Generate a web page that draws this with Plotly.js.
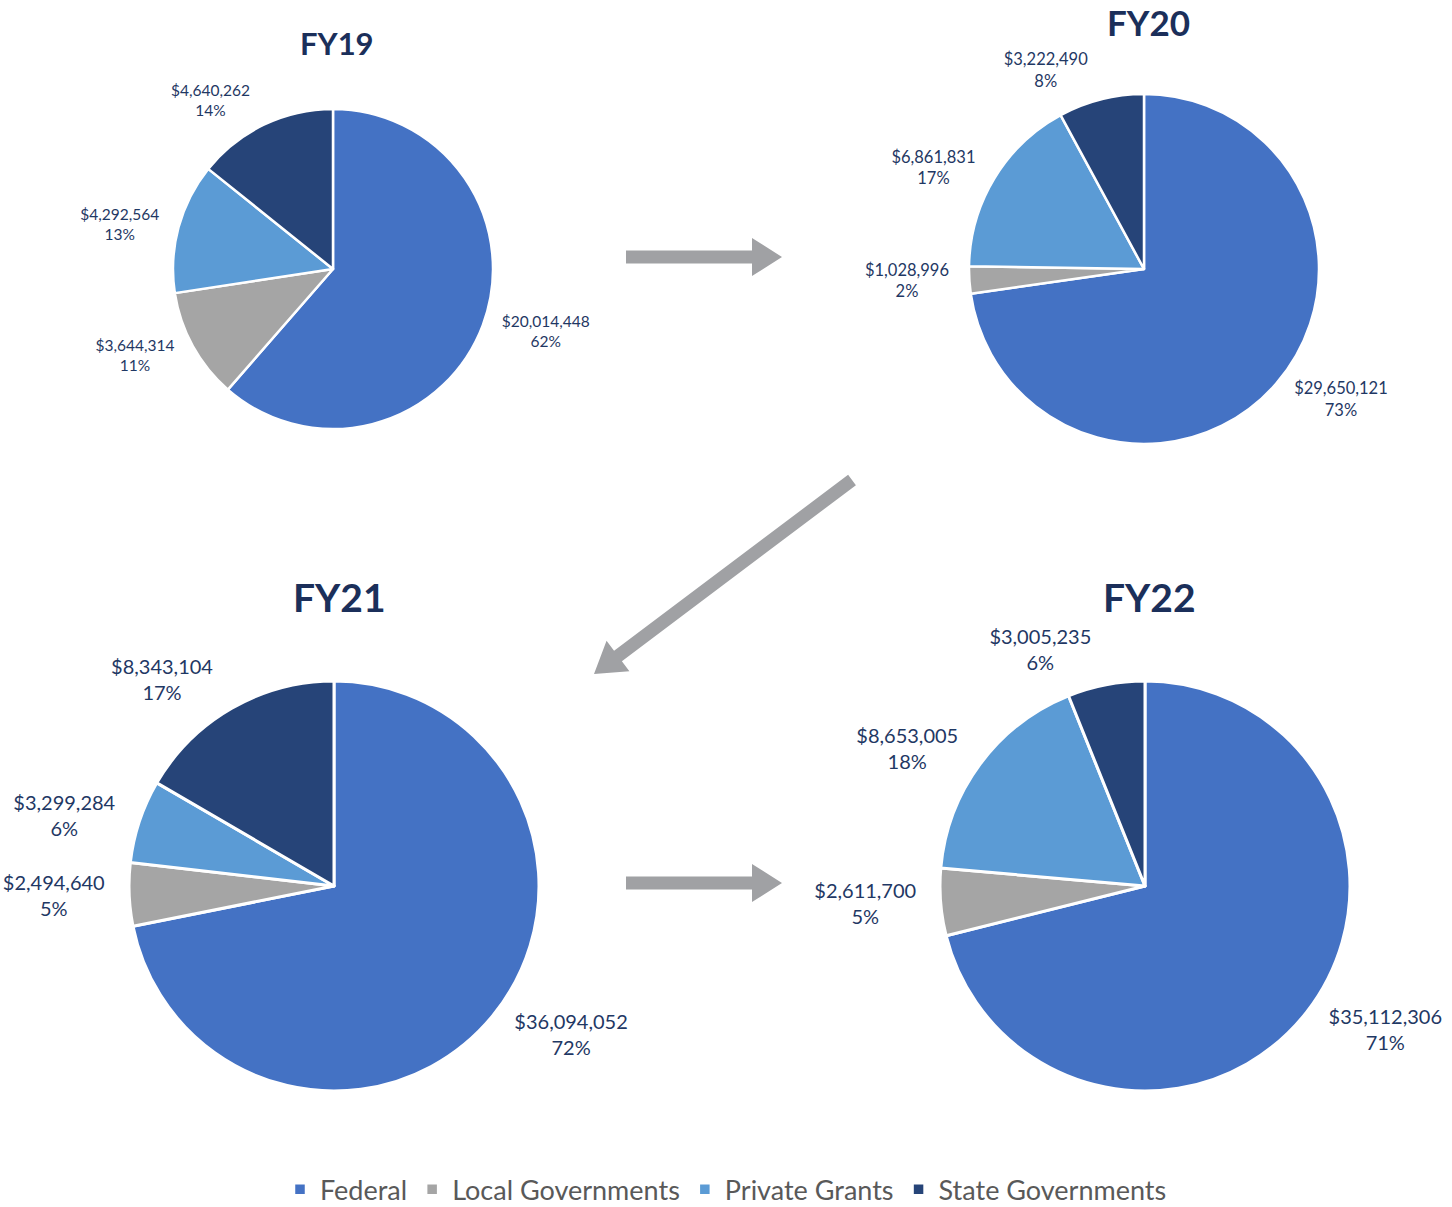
<!DOCTYPE html>
<html>
<head>
<meta charset="utf-8">
<script src="https://cdn.plot.ly/plotly-3.0.1.min.js"></script>
<style>
  html, body { margin: 0; padding: 0; background: #ffffff; }
  #chart { width: 1452px; height: 1207px; }
</style>
</head>
<body>
<div id="chart"></div>
<script>
// ---- data ----
const categories = ['Federal', 'Local Governments', 'Private Grants', 'State Governments'];
const years = ['FY19', 'FY20', 'FY21', 'FY22'];
const fy19Values = [20014448, 3644314, 4292564, 4640262];
const fy20Values = [29650121, 1028996, 6861831, 3222490];
const fy21Values = [36094052, 2494640, 3299284, 8343104];
const fy22Values = [35112306, 2611700, 8653005, 3005235];
// percentages as printed on the chart
const fy19Pct = [62, 11, 13, 14];
const fy20Pct = [73, 2, 17, 8];
const fy21Pct = [72, 5, 6, 17];
const fy22Pct = [71, 5, 18, 6];

// ---- styling / layout ----
const W = 1452, H = 1207;
const sliceColors = ['#4472C4', '#A5A5A5', '#5B9BD5', '#264478'];
const labelColor = '#1F3864';
const titleColor = '#1B2F5A';
const arrowColor = '#A0A1A4';
const FONT = 'Lato, "Open Sans", sans-serif';

function dom(cx, cy, r) {
  return { x: [(cx - r) / W, (cx + r) / W], y: [1 - (cy + r) / H, 1 - (cy - r) / H] };
}

const pies = [
  { values: fy19Values, pct: fy19Pct, cx: 333, cy: 269, r: 160, gap: 10, fs: 15.5, lw: 2.5, title: years[0], tx: 337, ty: 43, tfs: 31 },
  { values: fy20Values, pct: fy20Pct, cx: 1144, cy: 269, r: 175, gap: 10, fs: 16.5, lw: 2.5, title: years[1], tx: 1148, ty: 22, tfs: 35 },
  { values: fy21Values, pct: fy21Pct, cx: 334, cy: 886, r: 205, gap: 12, fs: 20, lw: 3, title: years[2], tx: 339, ty: 597, tfs: 39 },
  { values: fy22Values, pct: fy22Pct, cx: 1145, cy: 886, r: 205, gap: 12, fs: 20, lw: 3, title: years[3], tx: 1149, ty: 597, tfs: 39 }
];

const traces = [];
pies.forEach((p, i) => {
  // visible pie
  traces.push({
    type: 'pie',
    name: p.title,
    labels: categories,
    values: p.values,
    textinfo: 'none',
    sort: false,
    direction: 'clockwise',
    rotation: 0,
    marker: { colors: sliceColors, line: { color: '#ffffff', width: p.lw } },
    domain: dom(p.cx, p.cy, p.r),
    hoverinfo: 'skip',
    showlegend: i === 0
  });
  // same data, transparent, slightly larger: carries the outside labels
  traces.push({
    type: 'pie',
    name: p.title + ' labels',
    labels: categories,
    values: p.values,
    text: p.pct.map(v => v + '%'),
    texttemplate: '$%{value:,}<br>%{text}',
    textposition: 'outside',
    outsidetextfont: { family: FONT, size: p.fs, color: labelColor },
    textfont: { family: FONT, size: p.fs, color: labelColor },
    sort: false,
    direction: 'clockwise',
    rotation: 0,
    marker: { colors: ['rgba(0,0,0,0)', 'rgba(0,0,0,0)', 'rgba(0,0,0,0)', 'rgba(0,0,0,0)'], line: { width: 0 } },
    domain: dom(p.cx, p.cy, p.r + p.gap),
    hoverinfo: 'skip',
    showlegend: false
  });
});

const annotations = pies.map(p => ({
  xref: 'paper', yref: 'paper',
  x: p.tx / W, y: 1 - p.ty / H,
  xanchor: 'center', yanchor: 'middle',
  text: '<b>' + p.title + '</b>',
  showarrow: false,
  font: { family: FONT, size: p.tfs, color: titleColor, weight: 900 }
}));

function arrowPath(x0, y0, x1, y1, sw, hw, hl) {
  const dx = x1 - x0, dy = y1 - y0;
  const L = Math.hypot(dx, dy);
  const ux = dx / L, uy = dy / L;
  const nx = -uy, ny = ux;
  const bx = x1 - ux * hl, by = y1 - uy * hl;
  const pts = [
    [x0 + nx * sw / 2, y0 + ny * sw / 2],
    [bx + nx * sw / 2, by + ny * sw / 2],
    [bx + nx * hw / 2, by + ny * hw / 2],
    [x1, y1],
    [bx - nx * hw / 2, by - ny * hw / 2],
    [bx - nx * sw / 2, by - ny * sw / 2],
    [x0 - nx * sw / 2, y0 - ny * sw / 2]
  ];
  return 'M' + pts.map(q => (q[0] / W).toFixed(5) + ',' + (1 - q[1] / H).toFixed(5)).join(' L') + ' Z';
}

const shapes = [
  [626, 257, 782, 257],
  [852, 480, 594, 674],
  [626, 883, 782, 883]
].map(a => ({
  type: 'path', xref: 'paper', yref: 'paper',
  path: arrowPath(a[0], a[1], a[2], a[3], 13, 38, 30),
  fillcolor: arrowColor, line: { width: 0 }
}));

const layout = {
  width: W, height: H,
  margin: { l: 0, r: 0, t: 0, b: 0, autoexpand: false },
  paper_bgcolor: '#ffffff',
  plot_bgcolor: '#ffffff',
  font: { family: FONT, color: labelColor },
  showlegend: true,
  legend: {
    orientation: 'h',
    x: 0.5, xanchor: 'center',
    y: -0.006, yanchor: 'bottom',
    font: { family: FONT, size: 27, color: '#595959' },
    traceorder: 'normal',
    itemclick: false, itemdoubleclick: false
  },
  annotations: annotations,
  shapes: shapes
};

Plotly.newPlot('chart', traces, layout, { staticPlot: true, displayModeBar: false });
</script>
</body>
</html>
